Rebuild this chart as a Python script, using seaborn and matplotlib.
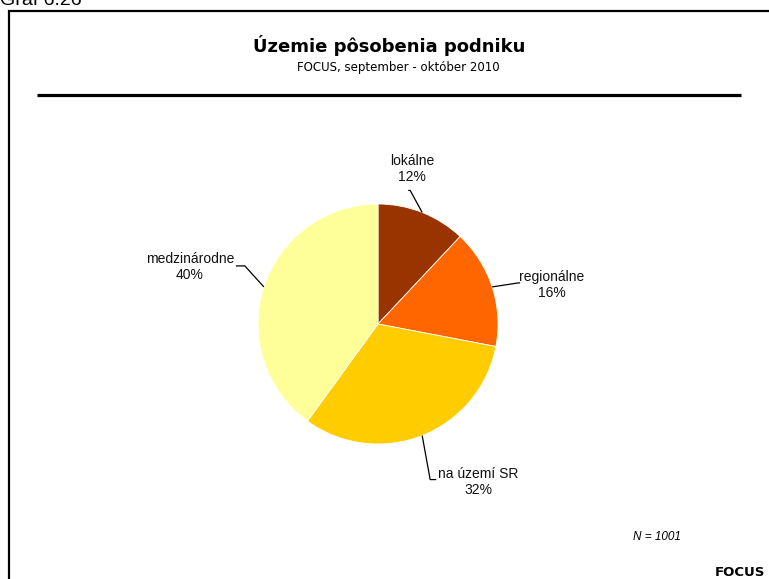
import numpy as np
import matplotlib
matplotlib.use("Agg")
import matplotlib.pyplot as plt
import seaborn as sns

categories = ["lokálne", "regionálne", "na území SR", "medzinárodne"]
values = [12, 16, 32, 40]
colors = ["#993300", "#FF6600", "#FFCC00", "#FFFF99"]
title = "Územie pôsobenia podniku"
subtitle = "FOCUS, september - október 2010"

sns.set_theme(style="white")
plt.rcParams['font.family'] = ['Liberation Sans', 'DejaVu Sans']
plt.rcParams['text.color'] = 'black'

W, H = 769, 579
fig = plt.figure(figsize=(W / 100, H / 100), dpi=100)
ax = fig.add_axes([0, 0, 1, 1])
ax.set_xlim(0, W)
ax.set_ylim(0, H)
ax.set_aspect('equal')
ax.axis('off')

def Y(py):
    return H - py

cx, cy, r = 378, 324, 120
wedges, _ = ax.pie(values, colors=colors, startangle=90, counterclock=False,
                   center=(cx, Y(cy)), radius=r,
                   wedgeprops=dict(linewidth=0.6, edgecolor='white'))
ax.set_xlim(0, W)
ax.set_ylim(0, H)

# leader-line / label layout (pixel offsets relative to wedge edge point)
label_layout = [
    dict(text_xy=(412, 169), path=[(-12, -22), (-14, -22)]),
    dict(text_xy=(552, 285), path=[(26, -4), (28, -4)]),
    dict(text_xy=(478, 482), path=[(8, 44), (14, 44)]),
    dict(text_xy=(190, 267), path=[(-19, -21), (-28, -21)]),
]

cum = np.cumsum([0] + values[:-1])
total = sum(values)
for i, (cat, v) in enumerate(zip(categories, values)):
    mid = (cum[i] + v / 2) / total * 2 * np.pi
    ex = cx + r * np.sin(mid)
    ey = cy - r * np.cos(mid)
    lay = label_layout[i]
    xs = [ex] + [ex + dx for dx, dy in lay['path']]
    ys = [ey] + [ey + dy for dx, dy in lay['path']]
    ax.plot(xs, [Y(y) for y in ys], color='black', lw=0.9, solid_capstyle='butt')
    tx, ty = lay['text_xy']
    ax.text(tx, Y(ty), f"{cat}\n{v}%", ha='center', va='center',
            fontsize=10, color='#111111', linespacing=1.25)

# frame and decorations
ax.add_patch(plt.Rectangle((9, Y(590)), 780, 579, fill=False, lw=1.6,
                           edgecolor='black', clip_on=False))
ax.plot([37, 741], [Y(94.5), Y(94.5)], color='black', lw=2.3, solid_capstyle='butt')

ax.text(389, Y(46), title, ha='center', va='center', fontsize=13,
        fontweight='bold', family=['DejaVu Sans'])
ax.text(398, Y(68), subtitle, ha='center', va='center', fontsize=8.5,
        family=['DejaVu Sans'])
ax.text(657, Y(537), "N = 1001", ha='center', va='center', fontsize=8.5,
        style='italic')
ax.text(740, Y(572), "FOCUS", ha='center', va='center', fontsize=9.5,
        fontweight='bold', family=['DejaVu Sans'])
ax.text(0, Y(5), "Graf 6.26", ha='left', va='baseline', fontsize=14)

fig.savefig("out.png", dpi=100)
